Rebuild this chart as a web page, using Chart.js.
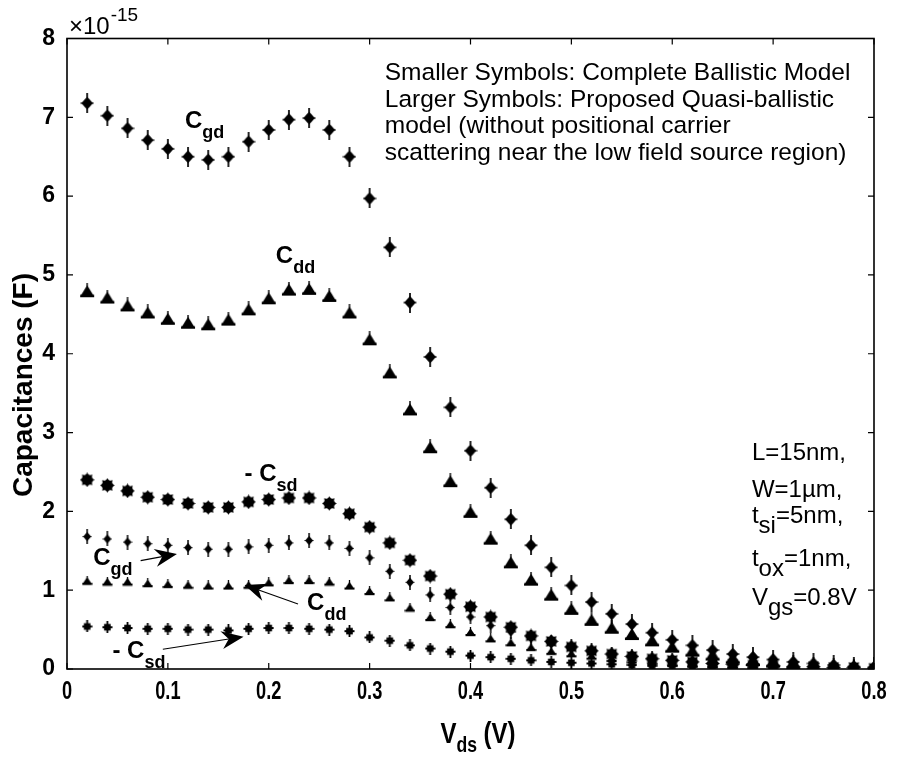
<!DOCTYPE html>
<html><head><meta charset="utf-8">
<script src="https://cdn.jsdelivr.net/npm/chart.js@4/dist/chart.umd.min.js"></script>
<style>html,body{margin:0;padding:0;background:#fff}#wrap{width:898px;height:767px}</style>
</head><body><div id="wrap"><canvas id="c" width="898" height="767"></canvas></div>
<script>
// ---------- data ----------
const vds = [0.02,0.04,0.06,0.08,0.10,0.12,0.14,0.16,0.18,0.20,0.22,0.24,0.26,0.28,0.30,0.32,0.34,0.36,0.38,0.40,
             0.42,0.44,0.46,0.48,0.50,0.52,0.54,0.56,0.58,0.60,0.62,0.64,0.66,0.68,0.70,0.72,0.74,0.76,0.78,0.80];
// Larger symbols: proposed quasi-ballistic model (x1e-15 F)
const cgdQuasi = [7.18,7.02,6.86,6.71,6.60,6.50,6.46,6.50,6.69,6.84,6.97,6.99,6.84,6.50,5.97,5.35,4.65,3.96,3.32,2.77,
                  2.30,1.90,1.57,1.29,1.06,0.85,0.70,0.57,0.46,0.37,0.30,0.24,0.19,0.15,0.12,0.09,0.07,0.05,0.03,0.02];
const cddQuasi = [4.80,4.72,4.62,4.53,4.45,4.40,4.38,4.44,4.57,4.71,4.82,4.83,4.74,4.53,4.19,3.77,3.30,2.82,2.39,2.00,
                  1.66,1.36,1.14,0.95,0.77,0.63,0.53,0.45,0.37,0.29,0.24,0.19,0.15,0.12,0.10,0.08,0.06,0.04,0.03,0.02];
const csdQuasi = [2.40,2.33,2.26,2.18,2.15,2.10,2.05,2.05,2.12,2.15,2.17,2.17,2.10,1.97,1.80,1.60,1.38,1.18,0.95,0.79,
                  0.66,0.53,0.42,0.35,0.28,0.23,0.19,0.16,0.13,0.11,0.09,0.07,0.06,0.05,0.04,0.03,0.03,0.02,0.02,0.01];
// Smaller symbols: complete ballistic model
const cgdBallistic = [1.68,1.65,1.61,1.59,1.57,1.54,1.52,1.52,1.55,1.57,1.60,1.63,1.60,1.53,1.41,1.24,1.10,0.94,0.78,0.66,
                      0.55,0.47,0.40,0.33,0.28,0.23,0.19,0.16,0.13,0.11,0.09,0.07,0.06,0.05,0.04,0.03,0.03,0.02,0.02,0.01];
const cddBallistic = [1.12,1.11,1.11,1.09,1.08,1.07,1.06,1.06,1.07,1.10,1.13,1.13,1.11,1.06,0.99,0.91,0.78,0.66,0.57,0.47,
                      0.39,0.34,0.28,0.23,0.20,0.17,0.14,0.12,0.10,0.08,0.07,0.06,0.05,0.04,0.03,0.03,0.02,0.02,0.01,0.01];
const csdBallistic = [0.54,0.53,0.52,0.51,0.51,0.50,0.50,0.49,0.51,0.52,0.52,0.51,0.50,0.48,0.40,0.36,0.30,0.26,0.22,0.17,
                      0.15,0.13,0.11,0.09,0.08,0.07,0.06,0.05,0.04,0.04,0.03,0.03,0.02,0.02,0.02,0.01,0.01,0.01,0.01,0.01];
const xTickValues = [0,0.1,0.2,0.3,0.4,0.5,0.6,0.7,0.8];
const xTickLabels = ['0','0.1','0.2','0.3','0.4','0.5','0.6','0.7','0.8'];
const yTickValues = [0,1,2,3,4,5,6,7,8];
const yExponentLabel = ['\u00d710', '-15'];
const xTitle = 'V_{ds} (V)';
const yTitle = 'Capacitances (F)';
const noteLines = ['Smaller Symbols: Complete Ballistic Model','Larger Symbols: Proposed Quasi-ballistic',
                   'model (without positional carrier','scattering near the low field source region)'];
const paramLines = ['L=15nm,','W=1\u00b5m,','t_{si}=5nm,','t_{ox}=1nm,','V_{gs}=0.8V'];

// ---------- styling / layout ----------
const FAM = "'Liberation Sans', Arial, sans-serif";
const AREA = {left:67, right:874, top:38.5, bottom:669};

function mk(w, h, draw) {
  const c = document.createElement('canvas'); c.width = w; c.height = h;
  const g = c.getContext('2d'); g.fillStyle = '#000'; g.strokeStyle = '#000'; draw(g, w/2, h/2); return c;
}
const mDiamondBig = mk(14, 20, (g, cx, cy) => {
  g.beginPath(); g.moveTo(cx, cy-6.5); g.lineTo(cx+5.8, cy); g.lineTo(cx, cy+6.5); g.lineTo(cx-5.8, cy); g.closePath(); g.fill();
  g.lineWidth = 1.7; g.beginPath(); g.moveTo(cx, 0); g.lineTo(cx, 20); g.stroke();
  g.lineWidth = 1.3; g.beginPath(); g.moveTo(0.5, cy); g.lineTo(13.5, cy); g.stroke();
});
const mTriBig = mk(16, 15, (g, cx, cy) => {
  g.beginPath(); g.moveTo(cx, 2); g.lineTo(14.5, 12.5); g.lineTo(1.5, 12.5); g.closePath(); g.fill();
  g.fillRect(1, 11.5, 14, 2.5);
  g.lineWidth = 1.4; g.beginPath(); g.moveTo(cx, 0); g.lineTo(cx, 4); g.stroke();
});
const mStarBig = mk(15, 15, (g, cx, cy) => {
  g.beginPath(); g.arc(cx, cy, 5.4, 0, Math.PI*2); g.fill();
  g.beginPath();
  for (let i = 0; i < 16; i++) {
    const a = i*Math.PI/8 - Math.PI/2, r = (i % 2 === 0) ? 7.3 : 5.0;
    const px = cx + r*Math.cos(a), py = cy + r*Math.sin(a);
    if (i === 0) g.moveTo(px, py); else g.lineTo(px, py);
  }
  g.closePath(); g.fill();
});
const mDiamondSmall = mk(10, 15, (g, cx, cy) => {
  g.beginPath(); g.moveTo(cx, cy-4.8); g.lineTo(cx+3.9, cy); g.lineTo(cx, cy+4.8); g.lineTo(cx-3.9, cy); g.closePath(); g.fill();
  g.lineWidth = 1.5; g.beginPath(); g.moveTo(cx, 0); g.lineTo(cx, 15); g.stroke();
  g.lineWidth = 1.1; g.beginPath(); g.moveTo(0.5, cy); g.lineTo(9.5, cy); g.stroke();
});
const mTriSmall = mk(11, 10, (g, cx, cy) => {
  g.beginPath(); g.moveTo(cx, 1.2); g.lineTo(10, 8); g.lineTo(1, 8); g.closePath(); g.fill();
  g.fillRect(0.5, 7, 10, 2.2);
  g.lineWidth = 1.3; g.beginPath(); g.moveTo(cx, 0); g.lineTo(cx, 3); g.stroke();
});
const mStarSmall = mk(11, 12, (g, cx, cy) => {
  g.fillRect(cx-3.3, cy-3.3, 6.6, 6.6);
  g.lineWidth = 1.8; g.beginPath(); g.moveTo(cx, 0); g.lineTo(cx, 12); g.moveTo(0.5, cy); g.lineTo(10.5, cy); g.stroke();
});

function parseRich(s) {
  const parts = []; const re = /([_^])\{([^}]*)\}/g; let last = 0, m;
  while ((m = re.exec(s)) !== null) {
    if (m.index > last) parts.push({t: s.slice(last, m.index), k: ''});
    parts.push({t: m[2], k: m[1]}); last = re.lastIndex;
  }
  if (last < s.length) parts.push({t: s.slice(last), k: ''});
  return parts;
}
function drawRich(ctx, s, x, y, o) {
  const parts = parseRich(s); let cx = x;
  for (const p of parts) {
    const fs = p.k ? o.sub : o.size;
    ctx.font = `${o.weight||'normal'} ${fs}px ${FAM}`;
    const dy = p.k === '_' ? o.drop : (p.k === '^' ? -o.rise : 0);
    ctx.fillText(p.t, cx, y + dy);
    cx += ctx.measureText(p.t).width;
  }
  return cx - x;
}
function richWidth(ctx, s, o) {
  let w = 0;
  for (const p of parseRich(s)) { ctx.font = `${o.weight||'normal'} ${p.k ? o.sub : o.size}px ${FAM}`; w += ctx.measureText(p.t).width; }
  return w;
}

// annotation labels placed in data coordinates (x in V, y in 1e-15 F, baseline)
const curveLabels = [
  {s:'C_{gd}',   x:0.117, y:6.86},
  {s:'C_{dd}',   x:0.207, y:5.15},
  {s:'- C_{sd}', x:0.176, y:2.38},
  {s:'C_{gd}',   x:0.026, y:1.32},
  {s:'C_{dd}',   x:0.238, y:0.75},
  {s:'- C_{sd}', x:0.045, y:0.14}
];
const arrows = [
  {x0:0.073, y0:1.375, x1:0.109, y1:1.46},
  {x0:0.229, y0:0.825, x1:0.176, y1:1.066},
  {x0:0.095, y0:0.25,  x1:0.175, y1:0.41}
];

const decor = {
  id: 'decor',
  afterDraw(chart) {
    const ctx = chart.ctx, a = chart.chartArea, xs = chart.scales.x, ys = chart.scales.y;
    ctx.save();
    ctx.strokeStyle = '#000'; ctx.fillStyle = '#000';
    // box
    ctx.lineWidth = 1.6;
    ctx.strokeRect(a.left, a.top, a.right - a.left, a.bottom - a.top);
    // inward ticks on all sides
    ctx.lineWidth = 1.2; const tl = 6;
    ctx.beginPath();
    for (const v of xTickValues) {
      const px = xs.getPixelForValue(v);
      ctx.moveTo(px, a.bottom); ctx.lineTo(px, a.bottom - tl);
      ctx.moveTo(px, a.top); ctx.lineTo(px, a.top + tl);
    }
    for (const v of yTickValues) {
      const py = ys.getPixelForValue(v);
      ctx.moveTo(a.left, py); ctx.lineTo(a.left + tl, py);
      ctx.moveTo(a.right, py); ctx.lineTo(a.right - tl, py);
    }
    ctx.stroke();
    ctx.textBaseline = 'alphabetic';
    // x tick labels (condensed bold)
    ctx.textAlign = 'center';
    xTickValues.forEach((v, i) => {
      ctx.save();
      ctx.translate(xs.getPixelForValue(v), a.bottom + 30);
      ctx.scale(0.7, 1);
      ctx.font = `bold 26px ${FAM}`;
      ctx.fillText(xTickLabels[i], 0, 0);
      ctx.restore();
    });
    ctx.textAlign = 'left';
    // exponent
    ctx.font = `24px ${FAM}`;
    ctx.fillText(yExponentLabel[0], a.left + 2, a.top - 5);
    const w0 = ctx.measureText(yExponentLabel[0]).width;
    ctx.font = `19px ${FAM}`;
    ctx.fillText(yExponentLabel[1], a.left + 2 + w0 + 1, a.top - 18);
    // x axis title (condensed bold)
    ctx.save();
    ctx.translate(478, 743); ctx.scale(0.8, 1);
    const xo = {size:30, sub:22, drop:9, weight:'bold'};
    const xw = richWidth(ctx, xTitle, xo);
    drawRich(ctx, xTitle, -xw/2, 0, xo);
    ctx.restore();
    // y axis title
    ctx.save();
    ctx.translate(32, 385); ctx.rotate(-Math.PI/2);
    ctx.font = `bold 28px ${FAM}`; ctx.textAlign = 'center';
    ctx.fillText(yTitle, 0, 0);
    ctx.restore();
    // note text (top right)
    ctx.font = `24.5px ${FAM}`; ctx.textAlign = 'left';
    const nx = xs.getPixelForValue(0.315);
    noteLines.forEach((t, i) => ctx.fillText(t, nx, 80 + i*26.7));
    // parameter text (right)
    const px0 = xs.getPixelForValue(0.679);
    const pBase = [460, 497, 523, 566, 605];
    const po = {size:24, sub:24, drop:10};
    paramLines.forEach((t, i) => drawRich(ctx, t, px0, pBase[i], po));
    // curve labels
    const lo = {size:24, sub:18, drop:10, weight:'bold'};
    for (const L of curveLabels) drawRich(ctx, L.s, xs.getPixelForValue(L.x), ys.getPixelForValue(L.y), lo);
    // arrows
    for (const A of arrows) {
      const x0 = xs.getPixelForValue(A.x0), y0 = ys.getPixelForValue(A.y0);
      const x1 = xs.getPixelForValue(A.x1), y1 = ys.getPixelForValue(A.y1);
      const ang = Math.atan2(y1 - y0, x1 - x0), hl = 22, hw = 9, notch = 15;
      const ca = Math.cos(ang), sa = Math.sin(ang);
      ctx.lineWidth = 1.1;
      ctx.beginPath(); ctx.moveTo(x0, y0); ctx.lineTo(x1 - ca*notch, y1 - sa*notch); ctx.stroke();
      ctx.beginPath();
      ctx.moveTo(x1, y1);
      ctx.lineTo(x1 - ca*hl - sa*hw, y1 - sa*hl + ca*hw);
      ctx.lineTo(x1 - ca*notch, y1 - sa*notch);
      ctx.lineTo(x1 - ca*hl + sa*hw, y1 - sa*hl - ca*hw);
      ctx.closePath(); ctx.fill();
    }
    ctx.restore();
  }
};

function series(ys) { return vds.map((x, i) => ({x, y: ys[i]})); }
function ds(label, ys, img) {
  return {label, data: series(ys), pointStyle: img, pointRadius: 6, showLine: false,
          backgroundColor: '#000', borderColor: '#000'};
}

new Chart(document.getElementById('c'), {
  type: 'scatter',
  data: {datasets: [
    ds('Cgd quasi-ballistic', cgdQuasi, mDiamondBig),
    ds('Cdd quasi-ballistic', cddQuasi, mTriBig),
    ds('-Csd quasi-ballistic', csdQuasi, mStarBig),
    ds('Cgd ballistic', cgdBallistic, mDiamondSmall),
    ds('Cdd ballistic', cddBallistic, mTriSmall),
    ds('-Csd ballistic', csdBallistic, mStarSmall)
  ]},
  options: {
    responsive: false, animation: false, devicePixelRatio: 1,
    layout: {padding: {left: 0, top: AREA.top, right: 898 - AREA.right, bottom: 0}},
    plugins: {legend: {display: false}, tooltip: {enabled: false}},
    scales: {
      x: {type: 'linear', min: 0, max: 0.8,
          afterBuildTicks: s => { s.ticks = xTickValues.map(v => ({value: v})); },
          afterFit: s => { s.height = 767 - AREA.bottom; },
          grid: {display: false, drawTicks: false, tickLength: 0},
          border: {display: false},
          ticks: {display: false}},
      y: {type: 'linear', min: 0, max: 8,
          afterBuildTicks: s => { s.ticks = yTickValues.map(v => ({value: v})); },
          afterFit: s => { s.width = AREA.left; },
          grid: {display: false, drawTicks: false, tickLength: 0},
          border: {display: false},
          ticks: {padding: 12, color: '#000', font: {family: FAM, size: 23, weight: 'bold'},
                  autoSkip: false, callback: v => String(v)}}
    }
  },
  plugins: [decor]
});
</script></body></html>
